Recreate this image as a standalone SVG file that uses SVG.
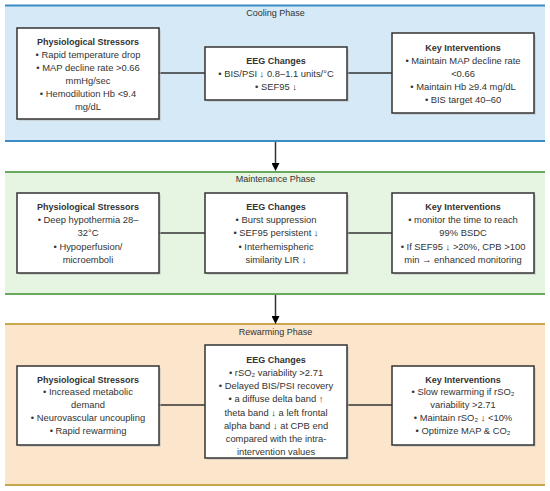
<svg xmlns="http://www.w3.org/2000/svg" width="550" height="491" viewBox="0 0 550 491">
<style>
text{font-family:"Liberation Sans",Arial,sans-serif;fill:#333;text-anchor:middle;font-size:9.4px}
.t{font-weight:bold;font-size:9px}
.ph{font-size:9px}
.box{fill:#fff;stroke:#333;stroke-width:1.5}
.sh{fill:#bbb;opacity:0.5}
.conn line{stroke:#333;stroke-width:1.5}
.arr{stroke:#000;stroke-width:1.5}
</style>
<defs>
<marker id="ah" markerWidth="8" markerHeight="8" refX="4" refY="4" orient="auto" markerUnits="userSpaceOnUse"><path d="M0,0 L8,4 L0,8 Z" fill="#000"/></marker>
</defs>
<rect width="550" height="491" fill="#fff"/>
<g id="cooling-band">
<rect x="5" y="5" width="540" height="136" fill="#d6e9f6"/>
<line x1="5" y1="5.5" x2="545" y2="5.5" stroke="#3a8cc4" stroke-width="2"/>
<line x1="5" y1="141" x2="545" y2="141" stroke="#3a8cc4" stroke-width="2"/>
<text class="ph" x="275.5" y="16">Cooling Phase</text>
</g>
<g id="maintenance-band">
<rect x="5" y="172" width="540" height="122" fill="#e6f4e2"/>
<line x1="5" y1="172" x2="545" y2="172" stroke="#6aa85d" stroke-width="2"/>
<line x1="5" y1="294" x2="545" y2="294" stroke="#6aa85d" stroke-width="2"/>
<text class="ph" x="275.5" y="182">Maintenance Phase</text>
</g>
<g id="rewarming-band">
<rect x="5" y="324" width="540" height="161" fill="#fbe6cc"/>
<line x1="5" y1="324" x2="545" y2="324" stroke="#c8a64c" stroke-width="2"/>
<line x1="5" y1="485" x2="545" y2="485" stroke="#c8a64c" stroke-width="2"/>
<text class="ph" x="275.5" y="334.5">Rewarming Phase</text>
</g>
<g class="conn" id="connectors">
<line x1="159" y1="73" x2="205" y2="73"/>
<line x1="347" y1="73" x2="392" y2="73"/>
<line x1="159" y1="233" x2="205" y2="233"/>
<line x1="347" y1="233" x2="392" y2="233"/>
<line x1="159" y1="405" x2="205" y2="405"/>
<line x1="347" y1="405" x2="392" y2="405"/>
<line class="arr" x1="275.5" y1="142" x2="275.5" y2="167" marker-end="url(#ah)"/>
<line class="arr" x1="275.5" y1="295" x2="275.5" y2="320" marker-end="url(#ah)"/>
</g>
<g id="cool-stress">
<rect class="sh" x="19" y="30" width="142" height="91"/>
<rect class="box" x="17" y="28" width="142" height="91"/>
<text class="t" x="88" y="45">Physiological Stressors</text>
<text x="88" y="57.5">• Rapid temperature drop</text>
<text x="88" y="70.5">• MAP decline rate &gt;0.66</text>
<text x="88" y="83.5">mmHg/sec</text>
<text x="88" y="96.5">• Hemodilution Hb &lt;9.4</text>
<text x="88" y="109.5">mg/dL</text>
</g>
<g id="cool-eeg">
<rect class="sh" x="207" y="49" width="142" height="53"/>
<rect class="box" x="205" y="47" width="142" height="53"/>
<text class="t" x="276" y="64">EEG Changes</text>
<text x="276" y="77">• BIS/PSI ↓ 0.8–1.1 units/°C</text>
<text x="276" y="90">• SEF95 ↓</text>
</g>
<g id="cool-int">
<rect class="sh" x="394" y="35" width="142" height="80"/>
<rect class="box" x="392" y="33" width="142" height="80"/>
<text class="t" x="463" y="50.5">Key Interventions</text>
<text x="463" y="64">• Maintain MAP decline rate</text>
<text x="463" y="77">&lt;0.66</text>
<text x="463" y="90">• Maintain Hb ≥9.4 mg/dL</text>
<text x="463" y="103">• BIS target 40–60</text>
</g>
<g id="maint-stress">
<rect class="sh" x="19" y="195" width="142" height="80"/>
<rect class="box" x="17" y="193" width="142" height="80"/>
<text class="t" x="88" y="210">Physiological Stressors</text>
<text x="88" y="223">• Deep hypothermia 28–</text>
<text x="88" y="236">32°C</text>
<text x="88" y="249.5">• Hypoperfusion/</text>
<text x="88" y="262.5">microemboli</text>
</g>
<g id="maint-eeg">
<rect class="sh" x="207" y="195" width="142" height="80"/>
<rect class="box" x="205" y="193" width="142" height="80"/>
<text class="t" x="276" y="210">EEG Changes</text>
<text x="276" y="223">• Burst suppression</text>
<text x="276" y="236">• SEF95 persistent ↓</text>
<text x="276" y="249.5">• Interhemispheric</text>
<text x="276" y="262.5">similarity LIR ↓</text>
</g>
<g id="maint-int">
<rect class="sh" x="394" y="195" width="142" height="80"/>
<rect class="box" x="392" y="193" width="142" height="80"/>
<text class="t" x="463" y="210">Key Interventions</text>
<text x="463" y="223">• monitor the time to reach</text>
<text x="463" y="236">99% BSDC</text>
<text x="463" y="249.5">• If SEF95 ↓ &gt;20%, CPB &gt;100</text>
<text x="463" y="262.5">min → enhanced monitoring</text>
</g>
<g id="rew-stress">
<rect class="sh" x="19" y="368" width="142" height="79"/>
<rect class="box" x="17" y="366" width="142" height="79"/>
<text class="t" x="88" y="382.5">Physiological Stressors</text>
<text x="88" y="395">• Increased metabolic</text>
<text x="88" y="408">demand</text>
<text x="88" y="421">• Neurovascular uncoupling</text>
<text x="88" y="434">• Rapid rewarming</text>
</g>
<g id="rew-eeg">
<rect class="sh" x="207" y="347" width="142" height="113"/>
<rect class="box" x="205" y="345" width="142" height="113"/>
<text class="t" x="276" y="363">EEG Changes</text>
<text x="276" y="376">• rSO₂ variability &gt;2.71</text>
<text x="276" y="389">• Delayed BIS/PSI recovery</text>
<text x="276" y="402">• a diffuse delta band ↑</text>
<text x="276" y="415.5">theta band ↓ a left frontal</text>
<text x="276" y="428.5">alpha band ↓ at CPB end</text>
<text x="276" y="441.5">compared with the intra-</text>
<text x="276" y="454.5">intervention values</text>
</g>
<g id="rew-int">
<rect class="sh" x="394" y="368" width="142" height="79"/>
<rect class="box" x="392" y="366" width="142" height="79"/>
<text class="t" x="463" y="382.5">Key Interventions</text>
<text x="463" y="395">• Slow rewarming if rSO₂</text>
<text x="463" y="408">variability &gt;2.71</text>
<text x="463" y="421">• Maintain rSO₂ ↓ &lt;10%</text>
<text x="463" y="434">• Optimize MAP &amp; CO₂</text>
</g>
</svg>
